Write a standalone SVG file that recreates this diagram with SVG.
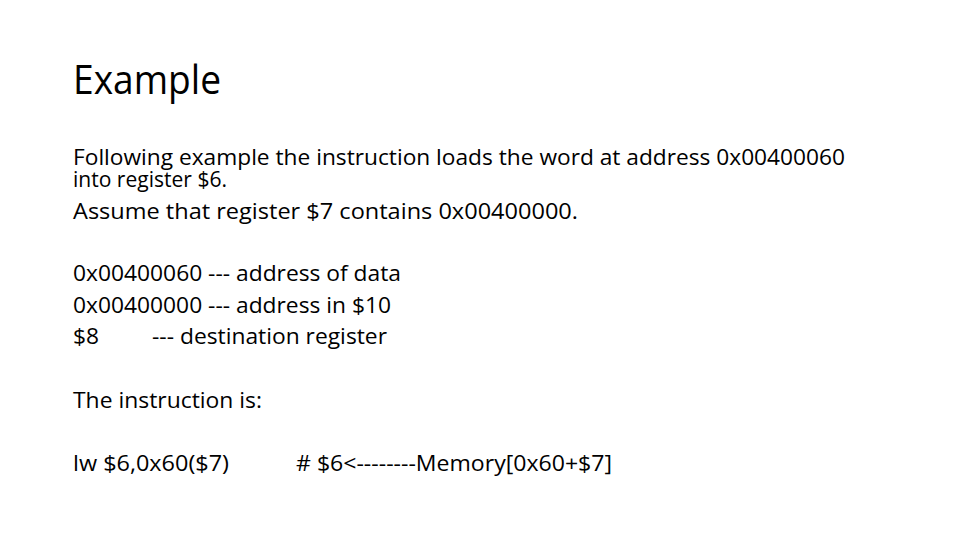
<svg xmlns="http://www.w3.org/2000/svg" width="960" height="540" viewBox="0 0 960 540">
<style>
text{font-family:"Open Sans","Liberation Sans",sans-serif;fill:#000}
.t{font-size:40px}
.b{font-size:22px}
</style>
<rect width="960" height="540" fill="#fff"/>
<g id="title"><text class="t" x="73" y="94" textLength="148" lengthAdjust="spacingAndGlyphs">Example</text></g>
<g id="body">
<text class="b" x="73" y="165" textLength="772" lengthAdjust="spacingAndGlyphs">Following example the instruction loads the word at address 0x00400060</text>
<text class="b" x="73" y="187" textLength="154" lengthAdjust="spacingAndGlyphs">into register $6.</text>
<text class="b" x="73" y="219" textLength="505" lengthAdjust="spacingAndGlyphs">Assume that register $7 contains 0x00400000.</text>
<text class="b" x="73" y="281" textLength="328" lengthAdjust="spacingAndGlyphs">0x00400060 --- address of data</text>
<text class="b" x="73" y="313" textLength="318" lengthAdjust="spacingAndGlyphs">0x00400000 --- address in $10</text>
<text class="b" x="73" y="344" textLength="26" lengthAdjust="spacingAndGlyphs">$8</text>
<text class="b" x="152" y="344" textLength="235" lengthAdjust="spacingAndGlyphs">--- destination register</text>
<text class="b" x="73" y="408" textLength="189" lengthAdjust="spacingAndGlyphs">The instruction is:</text>
<text class="b" x="73" y="471" textLength="156" lengthAdjust="spacingAndGlyphs">lw $6,0x60($7)</text>
<text class="b" x="296" y="471" textLength="316" lengthAdjust="spacingAndGlyphs"># $6&lt;--------Memory[0x60+$7]</text>
</g>
</svg>
